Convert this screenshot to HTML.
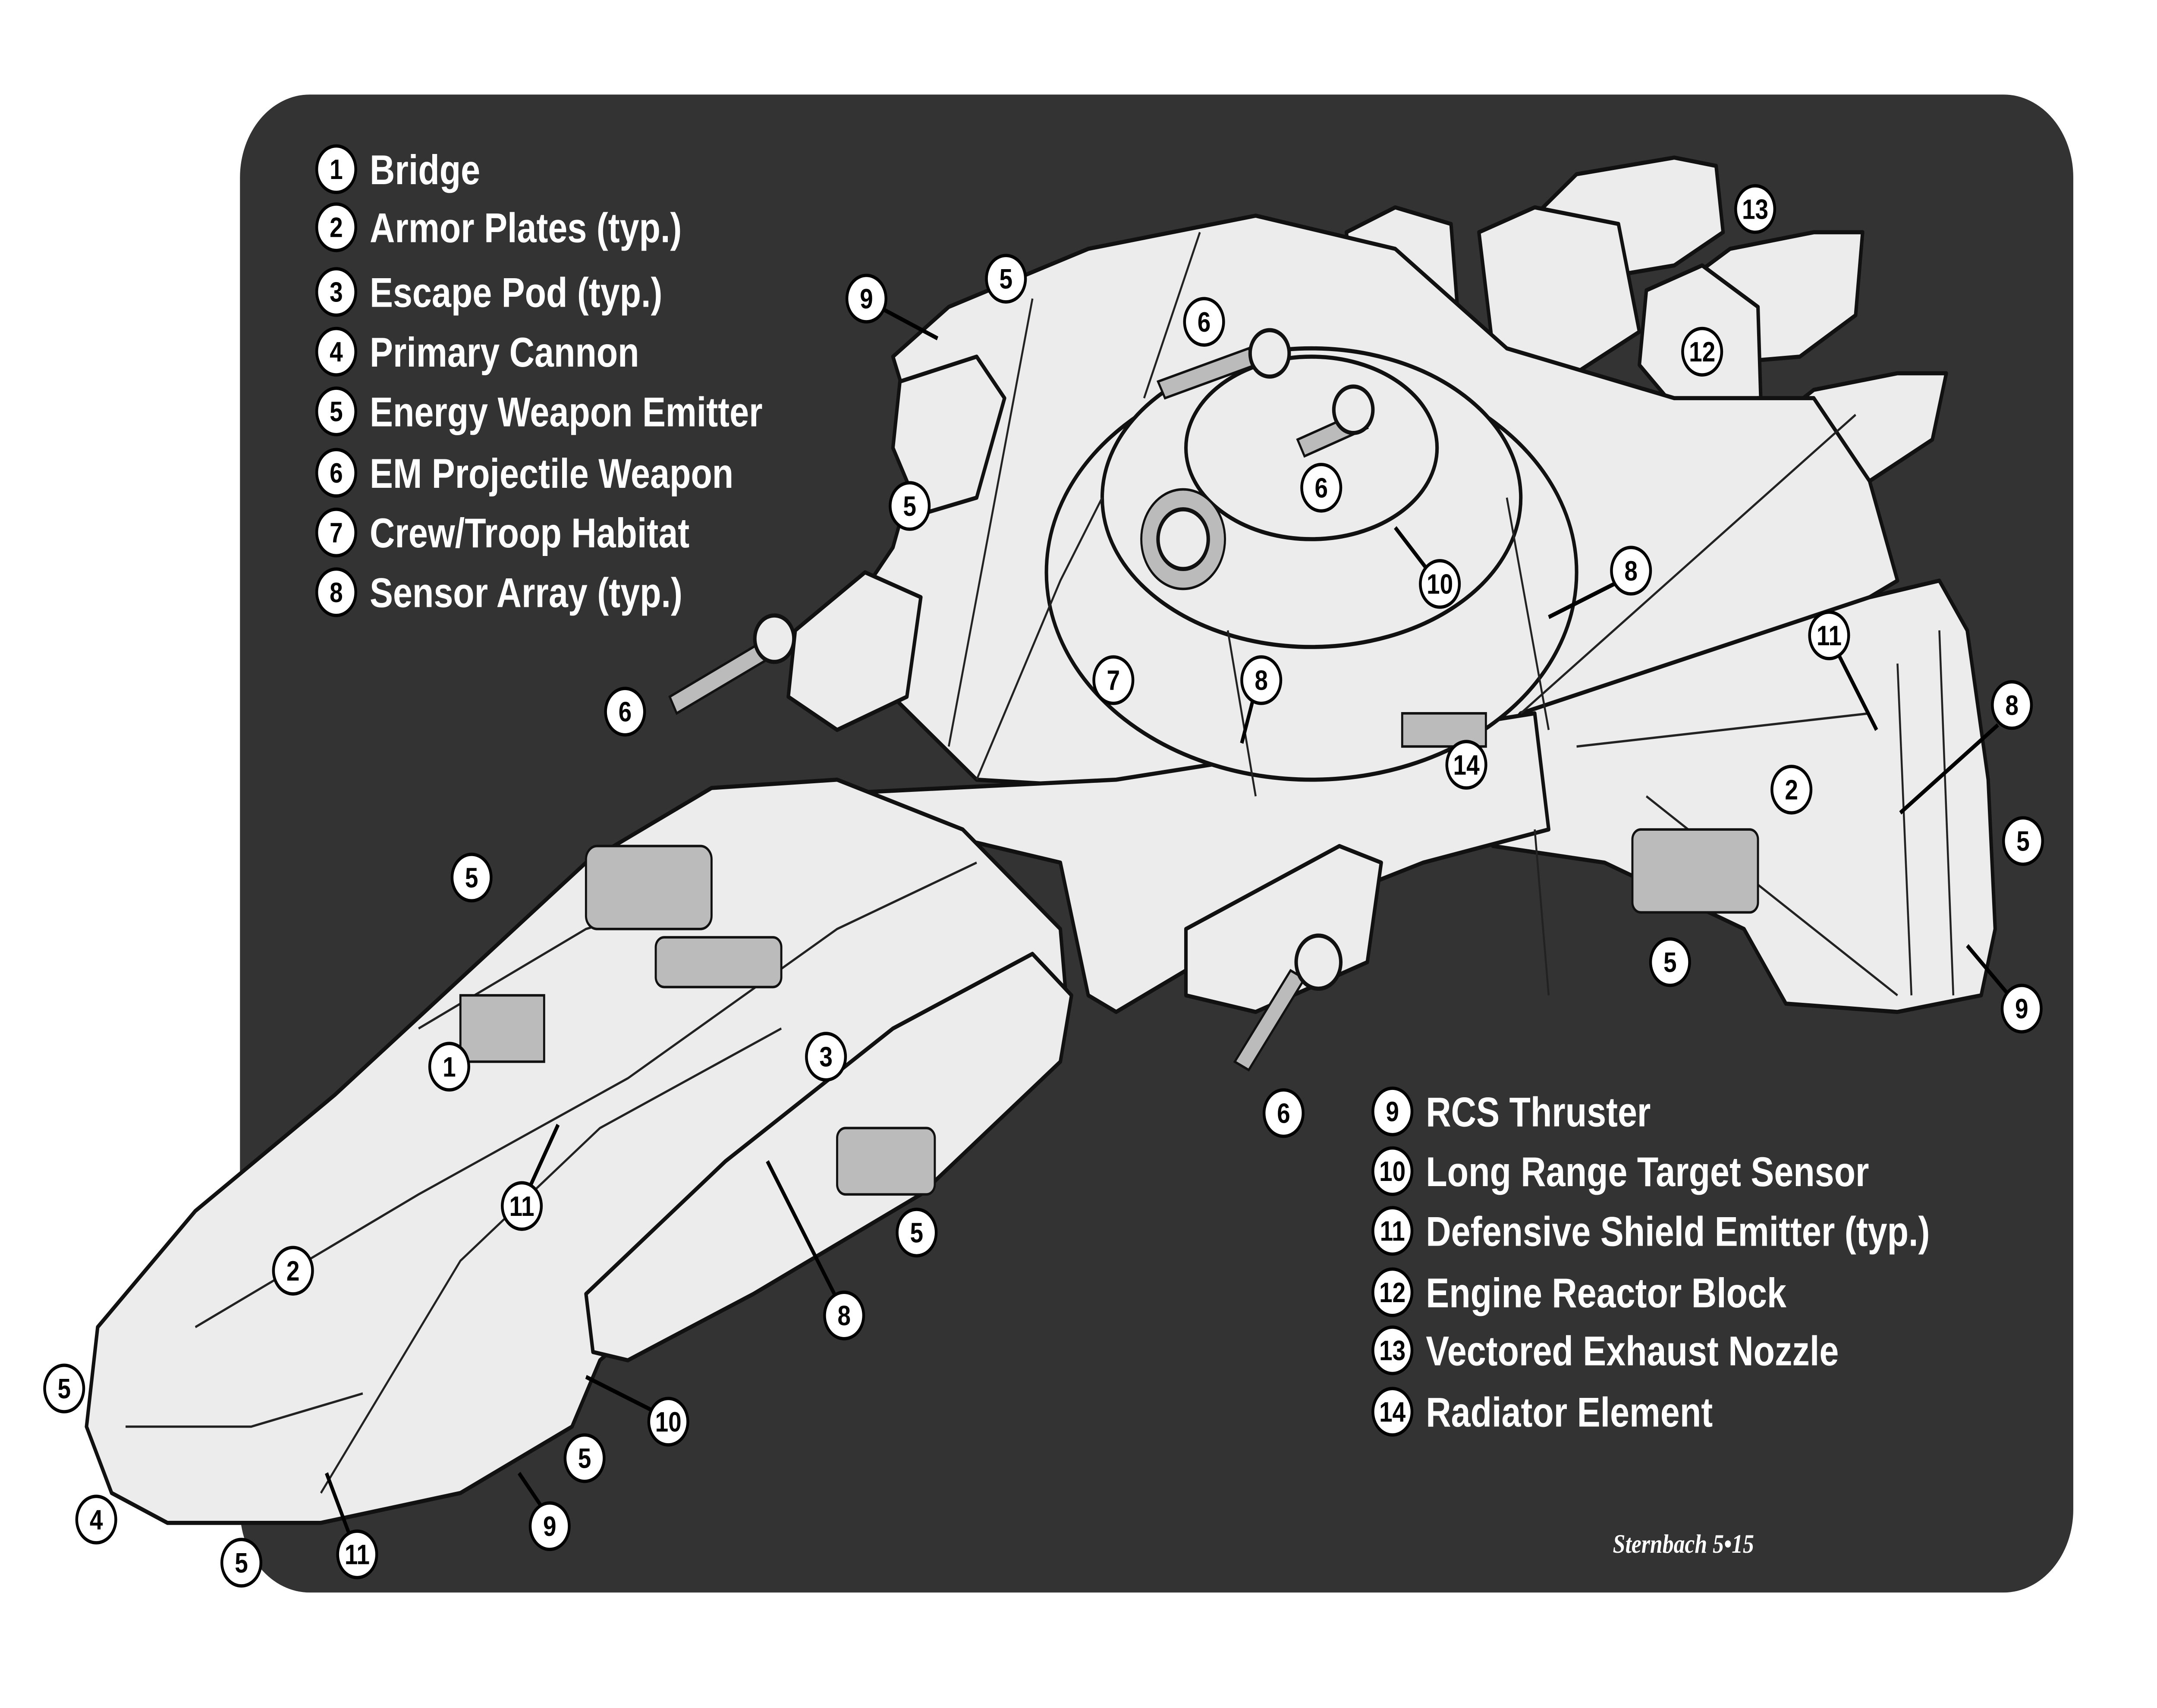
<!DOCTYPE html>
<html><head><meta charset="utf-8"><style>
html,body{margin:0;padding:0;background:#fff;width:100vw;height:100vh;overflow:hidden;}
svg{display:block;width:100vw;height:100vh}
.lg{font-family:"Liberation Sans Narrow","Liberation Sans",sans-serif;font-weight:bold;fill:#fff;font-size:25px}
.n{font-family:"Liberation Sans Narrow","Liberation Sans",sans-serif;font-weight:bold;fill:#000;font-size:17px;text-anchor:middle;dominant-baseline:central}
.h{fill:#ececec;stroke:#111;stroke-width:2.5;stroke-linejoin:round}
.p{fill:none;stroke:#222;stroke-width:1.4}
.d{fill:#bbb;stroke:#111;stroke-width:1.5}
</style></head><body>
<svg viewBox="0 0 1546 1029.6" preserveAspectRatio="none" xmlns="http://www.w3.org/2000/svg">
<rect x="0" y="0" width="1546" height="1030" fill="#fff"/>
<rect x="172" y="57" width="1314" height="903" rx="50" fill="#333"/>

<!-- engines -->
<g class="h">
<polygon points="1100,130 1130,105 1200,95 1230,100 1235,140 1200,160 1130,170"/>
<polygon points="1200,175 1240,150 1300,140 1335,140 1330,190 1290,215 1220,220"/>
<polygon points="1270,255 1300,235 1360,225 1395,225 1385,265 1340,290 1290,290"/>
<polygon points="1060,140 1100,125 1160,135 1175,200 1120,230 1070,210"/>
<polygon points="1180,175 1220,160 1260,185 1262,240 1200,245 1175,220"/>
<polygon points="965,140 1000,125 1040,135 1045,190 990,200 970,180"/>
<polygon points="1230,270 1260,240 1300,260 1300,300 1240,305"/>
</g>
<!-- upper wing -->
<path class="h" d="M640,215 L680,185 L780,150 L900,130 L1000,150 L1080,210 L1200,240 L1300,240 L1340,290 L1360,350 L1340,360 L1110,440 L900,480 L700,470 L640,420 L600,380 L640,330 L660,270 Z"/>
<!-- rear right wing -->
<path class="h" d="M1090,430 L1340,360 L1390,350 L1410,380 L1425,470 L1430,560 L1420,600 L1360,610 L1280,605 L1250,560 L1150,520 L1070,510 L1060,460 Z"/>
<!-- left gun pods -->
<path class="h" d="M570,380 L620,345 L660,360 L650,420 L600,440 L565,420 Z"/>
<path class="h" d="M645,230 L700,215 L720,240 L700,300 L660,310 L640,270 Z"/>
<!-- spine -->
<path class="h" d="M560,480 L800,470 L1100,430 L1110,500 L1020,520 L900,560 L800,610 L780,600 L760,520 Z"/>
<!-- under pod -->
<path class="h" d="M850,560 L960,510 L990,520 L980,580 L900,610 L850,600 Z"/>
<!-- forward hull -->
<path class="h" d="M62,860 L70,800 L140,730 L240,660 L330,590 L420,520 L510,475 L600,470 L690,500 L760,560 L765,610 L680,680 L560,750 L470,790 L430,820 L410,860 L330,900 L230,918 L120,918 L80,900 Z"/>
<path class="h" d="M420,780 L520,700 L640,620 L740,575 L768,600 L760,640 L660,720 L540,780 L450,820 L425,815 Z"/>
<!-- dome -->
<ellipse class="h" cx="940" cy="345" rx="190" ry="125"/>
<ellipse class="h" cx="940" cy="300" rx="150" ry="90"/>
<ellipse class="h" cx="940" cy="270" rx="90" ry="55"/>
<circle class="d" cx="848" cy="325" r="30"/>
<circle class="h" cx="848" cy="325" r="18"/>
<!-- guns -->
<g class="d">
<polygon points="830,230 895,210 900,220 835,240"/>
<polygon points="930,265 975,248 980,258 935,275"/>
<polygon points="480,420 550,385 555,395 485,430"/>
<polygon points="885,640 925,585 935,590 895,645"/>
</g>
<g class="h"><circle cx="910" cy="213" r="14"/><circle cx="970" cy="247" r="14"/><circle cx="555" cy="385" r="14"/><circle cx="945" cy="580" r="16"/></g>
<!-- panel lines -->
<g class="p">
<path d="M700,470 L760,350 L790,300"/><path d="M900,480 L880,380"/><path d="M1110,440 L1080,300"/>
<path d="M1090,430 L1330,250"/><path d="M1130,450 L1340,430"/><path d="M1180,480 L1360,600"/>
<path d="M740,180 L680,450"/><path d="M860,140 L820,240"/>
<path d="M140,800 L300,720 L450,650 L600,560 L700,520"/><path d="M230,900 L330,760 L430,680 L560,620"/>
<path d="M300,620 L420,560 L500,540"/><path d="M90,860 L180,860 L260,840"/>
<path d="M1100,500 L1110,600"/><path d="M1360,400 L1370,600"/><path d="M1390,380 L1400,600"/>
</g>
<g class="d">
<rect x="420" y="510" width="90" height="50" rx="8"/><rect x="470" y="565" width="90" height="30" rx="6"/>
<rect x="600" y="680" width="70" height="40" rx="6"/><rect x="1170" y="500" width="90" height="50" rx="6"/>
<rect x="1005" y="430" width="60" height="20"/><rect x="330" y="600" width="60" height="40"/>
</g>

<!-- legend -->
<g>
<g fill="#fff" stroke="#000" stroke-width="2">
<circle cx="241" cy="102" r="14"/><circle cx="241" cy="137" r="14"/><circle cx="241" cy="176" r="14"/><circle cx="241" cy="212" r="14"/><circle cx="241" cy="248" r="14"/><circle cx="241" cy="285" r="14"/><circle cx="241" cy="321" r="14"/><circle cx="241" cy="357" r="14"/>
<circle cx="998" cy="670" r="14"/><circle cx="998" cy="706" r="14"/><circle cx="998" cy="742" r="14"/><circle cx="998" cy="779" r="14"/><circle cx="998" cy="814" r="14"/><circle cx="998" cy="851" r="14"/>
</g>
<g class="n"><text x="241" y="102">1</text><text x="241" y="137">2</text><text x="241" y="176">3</text><text x="241" y="212">4</text><text x="241" y="248">5</text><text x="241" y="285">6</text><text x="241" y="321">7</text><text x="241" y="357">8</text>
<text x="998" y="670">9</text><text x="998" y="706">10</text><text x="998" y="742">11</text><text x="998" y="779">12</text><text x="998" y="814">13</text><text x="998" y="851">14</text></g>
<g class="lg">
<text x="265" y="111">Bridge</text><text x="265" y="146">Armor Plates (typ.)</text><text x="265" y="185">Escape Pod (typ.)</text><text x="265" y="221">Primary Cannon</text><text x="265" y="257">Energy Weapon Emitter</text><text x="265" y="294">EM Projectile Weapon</text><text x="265" y="330">Crew/Troop Habitat</text><text x="265" y="366">Sensor Array (typ.)</text>
<text x="1022" y="679">RCS Thruster</text><text x="1022" y="715">Long Range Target Sensor</text><text x="1022" y="751">Defensive Shield Emitter (typ.)</text><text x="1022" y="788">Engine Reactor Block</text><text x="1022" y="823">Vectored Exhaust Nozzle</text><text x="1022" y="860">Radiator Element</text>
</g>
</g>

<g stroke="#000" stroke-width="2.5" fill="none">
<line x1="632" y1="186" x2="672" y2="204"/><line x1="1040" y1="362" x2="1000" y2="318"/><line x1="1157" y1="352" x2="1110" y2="372"/>
<line x1="1318" y1="395" x2="1345" y2="440"/><line x1="1432" y1="437" x2="1362" y2="490"/><line x1="1438" y1="598" x2="1410" y2="570"/>
<line x1="898" y1="422" x2="890" y2="448"/><line x1="598" y1="780" x2="550" y2="700"/><line x1="467" y1="850" x2="420" y2="830"/>
<line x1="388" y1="908" x2="372" y2="888"/><line x1="250" y1="924" x2="234" y2="888"/><line x1="380" y1="715" x2="400" y2="678"/>
</g>

<g fill="#fff" stroke="#000" stroke-width="2">
<circle cx="721" cy="168" r="14"/><circle cx="621" cy="180" r="14"/><circle cx="863" cy="194" r="14"/><circle cx="947" cy="294" r="14"/><circle cx="652" cy="305" r="14"/><circle cx="1032" cy="352" r="14"/><circle cx="1169" cy="344" r="14"/><circle cx="1311" cy="383" r="14"/><circle cx="1442" cy="425" r="14"/><circle cx="1450" cy="507" r="14"/><circle cx="1284" cy="476" r="14"/><circle cx="1051" cy="461" r="14"/><circle cx="798" cy="410" r="14"/><circle cx="904" cy="410" r="14"/><circle cx="448" cy="429" r="14"/><circle cx="338" cy="529" r="14"/><circle cx="322" cy="643" r="14"/><circle cx="592" cy="637" r="14"/><circle cx="374" cy="727" r="14"/><circle cx="210" cy="766" r="14"/><circle cx="657" cy="743" r="14"/><circle cx="605" cy="793" r="14"/><circle cx="479" cy="857" r="14"/><circle cx="419" cy="879" r="14"/><circle cx="394" cy="920" r="14"/><circle cx="256" cy="937" r="14"/><circle cx="173" cy="942" r="14"/><circle cx="69" cy="916" r="14"/><circle cx="46" cy="837" r="14"/><circle cx="1197" cy="580" r="14"/><circle cx="1449" cy="608" r="14"/><circle cx="920" cy="671" r="14"/><circle cx="1258" cy="126" r="14"/><circle cx="1220" cy="212" r="14"/>
</g>
<g class="n">
<text x="721" y="168">5</text><text x="621" y="180">9</text><text x="863" y="194">6</text><text x="947" y="294">6</text><text x="652" y="305">5</text><text x="1032" y="352">10</text><text x="1169" y="344">8</text><text x="1311" y="383">11</text><text x="1442" y="425">8</text><text x="1450" y="507">5</text><text x="1284" y="476">2</text><text x="1051" y="461">14</text><text x="798" y="410">7</text><text x="904" y="410">8</text><text x="448" y="429">6</text><text x="338" y="529">5</text><text x="322" y="643">1</text><text x="592" y="637">3</text><text x="374" y="727">11</text><text x="210" y="766">2</text><text x="657" y="743">5</text><text x="605" y="793">8</text><text x="479" y="857">10</text><text x="419" y="879">5</text><text x="394" y="920">9</text><text x="256" y="937">11</text><text x="173" y="942">5</text><text x="69" y="916">4</text><text x="46" y="837">5</text><text x="1197" y="580">5</text><text x="1449" y="608">9</text><text x="920" y="671">6</text><text x="1258" y="126">13</text><text x="1220" y="212">12</text>
</g>
<text x="1156" y="936" fill="#fff" font-family="Liberation Serif, serif" font-style="italic" font-weight="bold" font-size="16">Sternbach 5•15</text>
</svg>
</body></html>
